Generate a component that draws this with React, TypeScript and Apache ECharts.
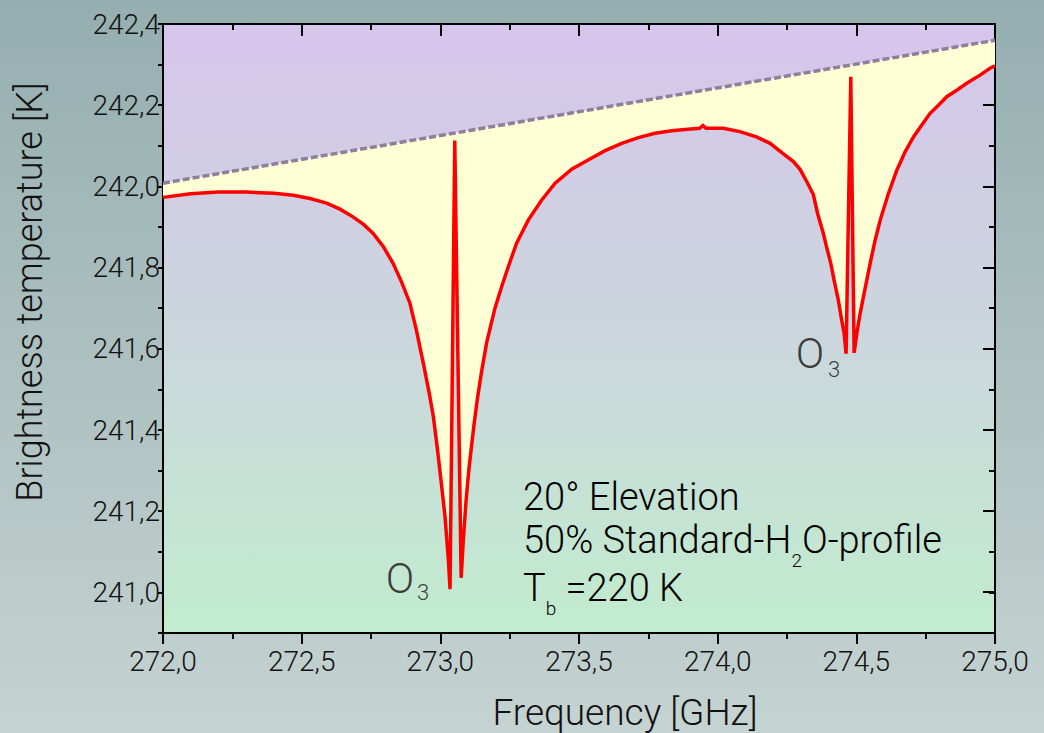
import React, { useEffect, useRef } from 'react';
import * as echarts from 'echarts';

// Frequency [GHz] of the simulated spectrum
const freqGHz = [
  272.0, 272.1, 272.2, 272.3, 272.4, 272.47, 272.53, 272.59, 272.638, 272.685,
  272.722, 272.757, 272.794, 272.83, 272.86, 272.89, 272.914, 272.94, 272.96, 272.975,
  272.99, 273.005, 273.017, 273.029, 273.035, 273.052, 273.075, 273.083, 273.093, 273.104,
  273.12, 273.133, 273.149, 273.167, 273.197, 273.221, 273.245, 273.275, 273.317, 273.365,
  273.414, 273.475, 273.533, 273.594, 273.654, 273.714, 273.774, 273.834, 273.893, 273.935,
  273.947, 273.958, 274.02, 274.08, 274.14, 274.189, 274.236, 274.273, 274.297, 274.321,
  274.345, 274.36, 274.381, 274.393, 274.408, 274.421, 274.435, 274.445, 274.456, 274.463,
  274.48, 274.492, 274.502, 274.514, 274.532, 274.55, 274.568, 274.586, 274.616, 274.646,
  274.676, 274.706, 274.736, 274.766, 274.796, 274.826, 274.862, 274.898, 274.946, 274.982,
  275.0,
];
// Brightness temperature [K]
const tbK = [
  241.973, 241.982, 241.986, 241.986, 241.983, 241.978, 241.97, 241.959, 241.944, 241.925,
  241.907, 241.885, 241.852, 241.81, 241.765, 241.713, 241.645, 241.56, 241.49, 241.432,
  241.35, 241.26, 241.186, 241.08, 241.008, 242.113, 241.036, 241.13, 241.228, 241.31,
  241.405, 241.474, 241.545, 241.615, 241.7, 241.753, 241.802, 241.86, 241.917, 241.966,
  242.008, 242.043, 242.065, 242.088, 242.106, 242.12, 242.131, 242.137, 242.141, 242.143,
  242.15, 242.143, 242.143, 242.135, 242.122, 242.106, 242.081, 242.061, 242.042, 242.012,
  241.98, 241.934, 241.884, 241.85, 241.81, 241.765, 241.72, 241.679, 241.638, 241.588,
  242.27, 241.59, 241.639, 241.688, 241.75, 241.811, 241.868, 241.917, 241.983, 242.04,
  242.085, 242.122, 242.151, 242.18, 242.2, 242.221, 242.237, 242.254, 242.274, 242.291,
  242.297,
];
// Continuum (dashed) line end points
const contFreq = [272.0, 275.0];
const contTb = [242.008, 242.36];

const xMin = 272.0;
const xMax = 275.0;
const xStep = 0.5;
const yMin = 240.9;
const yMax = 242.4;
const yMinorStep = 0.1;
const yMajorMin = 241.0;
const yMajorStep = 0.2;

const FONT = 'Roboto';
const W = 300;
const fmt = (v: number) => v.toFixed(1).replace('.', ',');

export default function App() {
  const ref = useRef<HTMLDivElement>(null);
  useEffect(() => {
    document.body.style.margin = '0';
    if (!ref.current) return;
    const chart = echarts.init(ref.current, undefined, { renderer: 'svg' });
    const axisLine = { show: true, onZero: false, lineStyle: { color: '#000', width: 2 } };
    const tickStyle = { color: '#000', width: 2 };
    const curve = freqGHz.map((f, i) => [f, tbK[i]]);
    const annColor = '#3c3c3c';
    const rich = {
      m: { fontSize: 38, fontFamily: FONT, fontWeight: W, color: annColor, lineHeight: 60 },
      s: { fontSize: 19, fontFamily: FONT, fontWeight: W, color: annColor, lineHeight: 19, verticalAlign: 'bottom' },
    };
    const option: any = {
      animation: false,
      backgroundColor: new echarts.graphic.LinearGradient(0, 0, 0, 1, [
        { offset: 0, color: '#95aeaf' },
        { offset: 1, color: '#c5d3d2' },
      ]),
      grid: [
        {
          left: 163, top: 24, width: 832, height: 609, show: true, borderWidth: 0,
          backgroundColor: new echarts.graphic.LinearGradient(0, 0, 0, 1, [
            { offset: 0, color: '#d6c5ec' },
            { offset: 0.5, color: '#cbd6dd' },
            { offset: 1, color: '#c1ecce' },
          ]),
        },
        { left: 163, top: 24, width: 832, height: 568, show: false },
      ],
      xAxis: [
        {
          gridIndex: 0, type: 'value', min: xMin, max: xMax, interval: xStep, position: 'bottom',
          axisLine, axisTick: { show: true, length: 11, lineStyle: tickStyle },
          minorTick: { show: true, splitNumber: 2, length: 6, lineStyle: tickStyle },
          splitLine: { show: false },
          axisLabel: { formatter: fmt, fontSize: 28, fontWeight: W, color: '#111', margin: 14, fontFamily: FONT },
        },
        {
          gridIndex: 0, type: 'value', min: xMin, max: xMax, interval: xStep, position: 'top',
          axisLine, axisTick: { show: true, inside: true, length: 12, lineStyle: tickStyle },
          minorTick: { show: true, splitNumber: 2, length: 6, lineStyle: tickStyle },
          splitLine: { show: false }, axisLabel: { show: false },
        },
        { gridIndex: 1, type: 'value', min: xMin, max: xMax, show: false },
      ],
      yAxis: [
        {
          gridIndex: 0, type: 'value', min: yMin, max: yMax, interval: yMinorStep, position: 'left',
          axisLine, axisTick: { show: true, length: 5, lineStyle: tickStyle },
          splitLine: { show: false },
          axisLabel: {
            formatter: (v: number) => (Math.round(v * 10) % 2 === 0 ? fmt(v) : ''),
            fontSize: 28, fontWeight: W, color: '#111', margin: 3, fontFamily: FONT,
          },
        },
        {
          gridIndex: 0, type: 'value', min: yMin, max: yMax, interval: yMinorStep, position: 'right',
          axisLine, axisTick: { show: true, inside: true, length: 6, lineStyle: tickStyle },
          splitLine: { show: false }, axisLabel: { show: false },
        },
        {
          gridIndex: 1, type: 'value', min: yMajorMin, max: yMax, interval: yMajorStep, position: 'right',
          axisLine: { show: false }, axisTick: { show: true, inside: true, length: 12, lineStyle: tickStyle },
          splitLine: { show: false }, axisLabel: { show: false },
        },
      ],
      series: [
        {
          type: 'custom', xAxisIndex: 0, yAxisIndex: 0, z: 1, silent: true,
          data: [[contFreq[0], contTb[0]]],
          renderItem: (_p: any, api: any) => {
            const pts: number[][] = [];
            pts.push(api.coord([contFreq[0], contTb[0]]));
            pts.push(api.coord([contFreq[1], contTb[1]]));
            for (let i = freqGHz.length - 1; i >= 0; i--) pts.push(api.coord([freqGHz[i], tbK[i]]));
            return { type: 'polygon', shape: { points: pts }, style: { fill: '#ffffd6' } };
          },
        },
        {
          type: 'line', xAxisIndex: 0, yAxisIndex: 0, z: 3, showSymbol: false, silent: true,
          data: contFreq.map((f, i) => [f, contTb[i]]),
          lineStyle: { color: '#8e7f9b', width: 3.5, type: [7, 3] },
        },
        {
          type: 'line', xAxisIndex: 0, yAxisIndex: 0, z: 4, showSymbol: false, silent: true,
          data: curve,
          lineStyle: { color: '#ff0000', width: 3.5, join: 'miter' },
        },
      ],
      graphic: [
        {
          type: 'text', x: 30, y: 292, rotation: Math.PI / 2, z: 10,
          style: { text: 'Brightness temperature [K]', font: `${W} 36px ${FONT}`, fill: '#111', align: 'center', verticalAlign: 'middle' },
        },
        {
          type: 'text', x: 625, y: 712, z: 10,
          style: { text: 'Frequency [GHz]', font: `${W} 37px ${FONT}`, fill: '#111', align: 'center', verticalAlign: 'middle' },
        },
        { type: 'text', x: 400, y: 578, z: 10, style: { text: 'O', font: `${W} 42px ${FONT}`, fill: annColor, align: 'center', verticalAlign: 'middle' } },
        { type: 'text', x: 423, y: 592, z: 10, style: { text: '3', font: `${W} 22px ${FONT}`, fill: annColor, align: 'center', verticalAlign: 'middle' } },
        { type: 'text', x: 810, y: 353, z: 10, style: { text: 'O', font: `${W} 42px ${FONT}`, fill: annColor, align: 'center', verticalAlign: 'middle' } },
        { type: 'text', x: 834, y: 369, z: 10, style: { text: '3', font: `${W} 22px ${FONT}`, fill: annColor, align: 'center', verticalAlign: 'middle' } },
        {
          type: 'text', x: 523, y: 497, z: 10,
          style: { text: '{m|20° Elevation}', align: 'left', verticalAlign: 'middle', rich },
        },
        {
          type: 'text', x: 523, y: 540, z: 10,
          style: { text: '{m|50% Standard-H}{s|2}{m|O-profile}', align: 'left', verticalAlign: 'middle', rich },
        },
        {
          type: 'text', x: 523, y: 588, z: 10,
          style: { text: '{m|T}{s|b}{m| =220 K}', align: 'left', verticalAlign: 'middle', rich },
        },
      ],
    };
    chart.setOption(option);
    return () => chart.dispose();
  }, []);
  return <div ref={ref} style={{ width: 1044, height: 733 }} />;
}
